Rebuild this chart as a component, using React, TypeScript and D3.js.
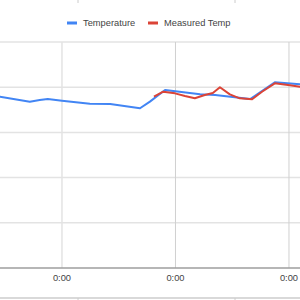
import React, { useEffect, useRef } from 'react'
import * as d3 from 'd3'

// hours from Jan 2 00:00
const tempHours = [-14.2, -13.1, -6.8, -4.7, -3.0, 0, 5.9, 10.2, 16.5, 18.6, 21.8, 29.2, 32.4, 39.8, 45.0, 50.3, 52.4]
const tempValues = [19.0, 18.95, 18.4, 18.58, 18.69, 18.51, 18.17, 18.14, 17.67, 18.4, 19.69, 19.21, 19.14, 18.69, 20.54, 20.32, 20.24]

const measHours = [19.45, 21.4, 23.9, 26.0, 28.1, 30.2, 31.9, 33.4, 35.5, 37.6, 40.2, 42.3, 45.0, 48.2, 50.3, 52.4]
const measValues = [18.95, 19.5, 19.32, 19.03, 18.77, 19.14, 19.36, 19.99, 19.21, 18.77, 18.66, 19.5, 20.43, 20.21, 20.06, 19.95]

const yTicks = [0, 5, 10, 15, 20, 25]
const xTickHours = [0, 24, 48]
const seriesNames = ['Temperature', 'Measured Temp']
const seriesColors = ['#4285f4', '#db4437']

const base = new Date(2024, 0, 2, 0, 0)
const toDate = (h: number) => new Date(base.getTime() + h * 3600 * 1000)

export default function App() {
  const ref = useRef<SVGSVGElement>(null)

  useEffect(() => {
    const svg = d3.select(ref.current)
    svg.selectAll('*').remove()
    const W = 300, H = 300
    const top = 42, bottom = 268

    const x = d3.scaleTime()
      .domain([toDate(-13.1), toDate(50.33)])
      .range([0, W])
    const y = d3.scaleLinear().domain([0, 25]).range([bottom, top])

    // bits of the neighbouring charts
    svg.append('line').attr('x1', 0).attr('x2', W).attr('y1', 298).attr('y2', 298)
      .attr('stroke', '#ccc').attr('stroke-width', 1.5)
    ;[78, 235].forEach(px => {
      svg.append('line').attr('x1', px).attr('x2', px).attr('y1', 0).attr('y2', 3).attr('stroke', '#ccc')
      svg.append('line').attr('x1', px).attr('x2', px).attr('y1', 298).attr('y2', 300).attr('stroke', '#ccc')
    })

    // horizontal gridlines
    svg.append('g').selectAll('line').data(yTicks.slice(1)).join('line')
      .attr('x1', 0).attr('x2', W)
      .attr('y1', d => y(d)).attr('y2', d => y(d))
      .attr('stroke', '#e3e3e3').attr('stroke-width', 1.5)

    // vertical gridlines
    svg.append('g').selectAll('line').data(xTickHours).join('line')
      .attr('x1', d => x(toDate(d))).attr('x2', d => x(toDate(d)))
      .attr('y1', top).attr('y2', bottom)
      .attr('stroke', (d, i) => i === 0 ? '#e3e3e3' : '#d0d0d0')
      .attr('stroke-width', (d, i) => i === 0 ? 1.5 : 1)

    // baseline
    svg.append('line').attr('x1', 0).attr('x2', W).attr('y1', y(0)).attr('y2', y(0))
      .attr('stroke', '#9e9e9e').attr('stroke-width', 1.5)

    // x labels
    svg.append('g').selectAll('text').data(xTickHours).join('text')
      .attr('x', d => x(toDate(d))).attr('y', 280.5)
      .attr('text-anchor', 'middle')
      .attr('font-family', 'Arial, "Liberation Sans", sans-serif')
      .attr('font-size', '9.3px').attr('fill', '#444')
      .text(d => d3.timeFormat('%-H:%M')(toDate(d)))

    // lines
    const clip = svg.append('defs').append('clipPath').attr('id', 'plotClip')
    clip.append('rect').attr('x', 0).attr('y', top - 10).attr('width', W).attr('height', bottom - top + 10)
    const line = d3.line<[number, number]>()
      .x(d => x(toDate(d[0]))).y(d => y(d[1]))
    const series = [
      tempHours.map((h, i) => [h, tempValues[i]] as [number, number]),
      measHours.map((h, i) => [h, measValues[i]] as [number, number]),
    ]
    const g = svg.append('g').attr('clip-path', 'url(#plotClip)')
    series.forEach((s, i) => {
      g.append('path').datum(s).attr('d', line)
        .attr('fill', 'none').attr('stroke', seriesColors[i])
        .attr('stroke-width', 2).attr('stroke-linejoin', 'round')
    })

    // legend
    const legend = svg.append('g').attr('font-family', 'Arial, "Liberation Sans", sans-serif')
      .attr('font-size', '9.3px').attr('fill', '#444')
    const lx = [67, 148]
    seriesNames.forEach((name, i) => {
      legend.append('rect').attr('x', lx[i]).attr('y', 21.5).attr('width', 10).attr('height', 3)
        .attr('fill', seriesColors[i])
      legend.append('text').attr('x', lx[i] + 16).attr('y', 26.3).text(name)
    })
  }, [])

  return (
    <svg ref={ref} width={300} height={300}
      style={{ position: 'fixed', left: 0, top: 0, background: '#fff' }} />
  )
}
